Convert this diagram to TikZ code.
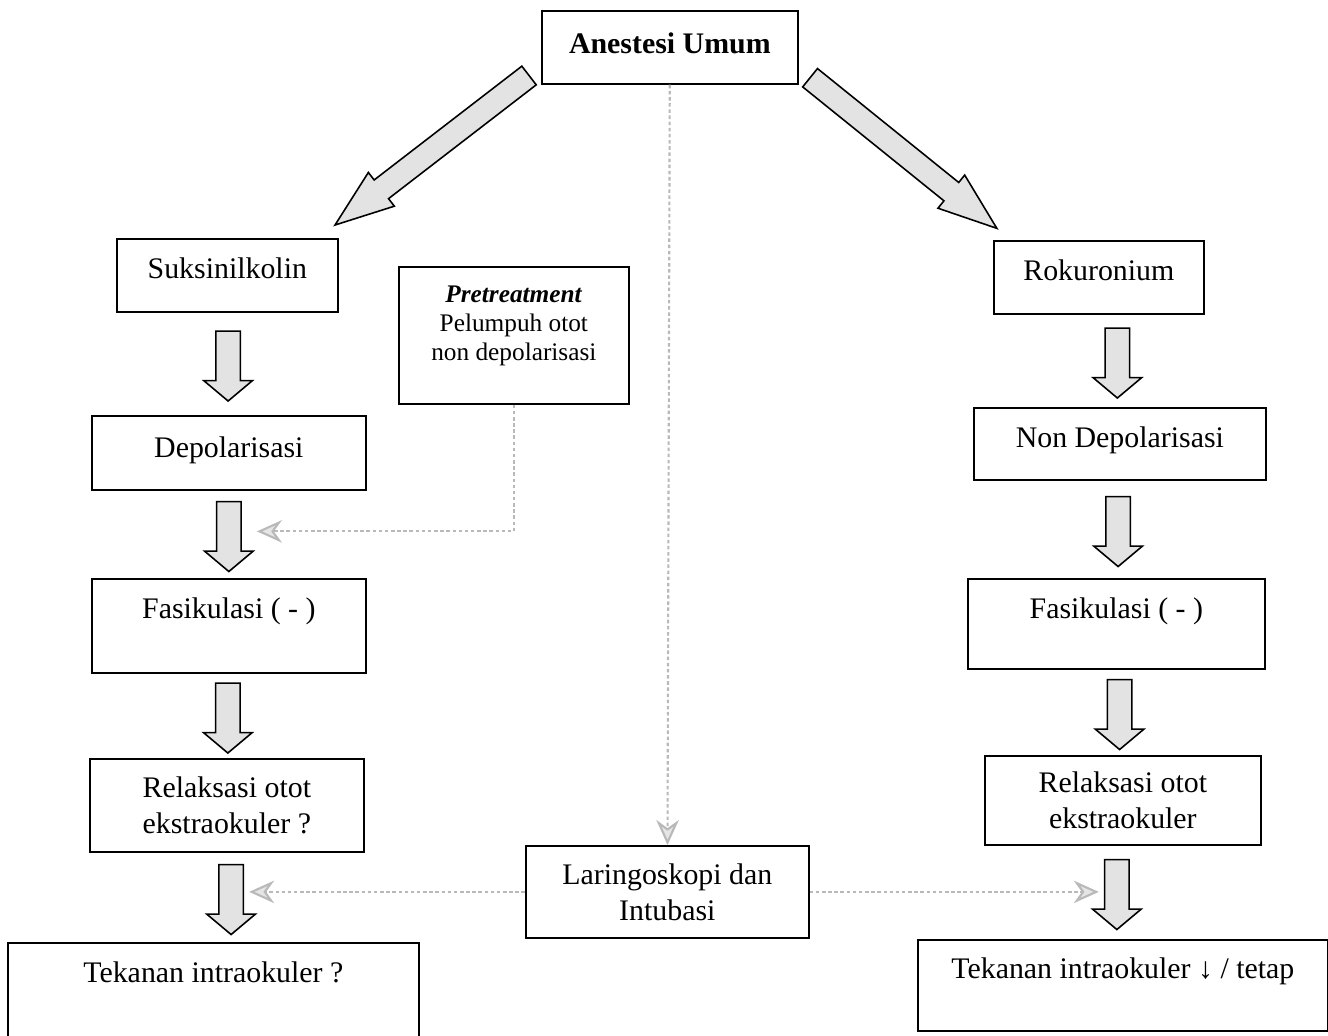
\documentclass[tikz,border=0pt]{standalone}
\usepackage{fontspec}
\setmainfont{Liberation Serif}
\usepackage{tikz}
\usetikzlibrary{shapes.arrows, arrows.meta, calc}

\newcommand{\boxfont}{\fontsize{17}{20.5}\selectfont}
\newcommand{\smallboxfont}{\fontsize{14.4}{16.5}\selectfont}

\tikzset{
  box/.style={draw, line width=1pt, inner sep=0pt, align=center, anchor=north west, font=\boxfont},
  downarrow/.style={single arrow, draw, line width=0.9pt, fill=gray!22, shape border rotate=270,
    minimum height=1.4cm, minimum width=0.94cm, single arrow head extend=0.24cm,
    single arrow tip angle=100, inner sep=0.23cm},
  bigarrow/.style={single arrow, draw, line width=0.9pt, fill=gray!22,
    minimum width=0.82cm, single arrow head extend=0.19cm,
    single arrow tip angle=40, inner sep=0.22cm},
  dotline/.style={draw=gray!55, line width=1.2pt, dash pattern=on 2pt off 1.5pt,
    -{Stealth[length=0.5cm, width=0.45cm, fill=gray!20]}},
}

\begin{document}
\begin{tikzpicture}[x=0.02cm, y=-0.02cm, >=stealth]

\useasboundingbox (0,0) rectangle (1328,1035);
\clip (0,0) rectangle (1328,1035);

\node [box, font=\boxfont\bfseries, minimum width=5.12cm, text height=0.86cm, text depth=0.60cm] (anes) at (541,10) {Anestesi Umum};

% left branch
\node [box, minimum width=4.42cm, text height=0.80cm, text depth=0.66cm] (suks) at (116,238) {Suksinilkolin};
\node [box, minimum width=5.48cm, text height=0.84cm, text depth=0.64cm] (depol) at (91,415) {Depolarisasi};
\node [box, minimum width=5.48cm, text height=0.80cm, text depth=1.08cm] (fasL) at (91,578) {Fasikulasi ( - )};
\node [box, minimum width=5.48cm, minimum height=1.86cm] (relL) at (89,758) {Relaksasi otot\\ekstraokuler ?};
\node [box, minimum width=8.22cm, text height=0.80cm, text depth=1.20cm] (tekL) at (7,942) {Tekanan intraokuler ?};

\node [box, font=\smallboxfont, minimum width=4.60cm, minimum height=2.74cm, text depth=0.48cm] (pretr) at (398,266)
  {\textbf{\textit{Pretreatment}}\\Pelumpuh otot\\non depolarisasi};

% right branch
\node [box, minimum width=4.20cm, text height=0.80cm, text depth=0.66cm] (roku) at (993,240) {Rokuronium};
\node [box, minimum width=5.84cm, text height=0.80cm, text depth=0.64cm] (ndepol) at (973,407) {Non Depolarisasi};
\node [box, minimum width=5.94cm, text height=0.80cm, text depth=1.00cm] (fasR) at (967,578) {Fasikulasi ( - )};
\node [box, minimum width=5.52cm, minimum height=1.78cm] (relR) at (984,755) {Relaksasi otot\\ekstraokuler};
\node [box, minimum width=8.20cm, text height=0.78cm, text depth=1.04cm] (tekR) at (917,939) {Tekanan intraokuler ↓ / tetap};

\node [box, minimum width=5.66cm, minimum height=1.84cm] (laring) at (525,845) {Laringoskopi dan\\Intubasi};

% block arrows
\path ($(anes.south west)+(2,-20)$) -- ($(suks.north east)+(8,-22)$)
  node [bigarrow, midway, sloped, allow upside down, minimum height=4.9cm] (larr) {};
\path ($(anes.south east)+(-1,-17)$) -- ($(roku.north west)+(-9,-22)$)
  node [bigarrow, midway, sloped, allow upside down, minimum height=4.8cm] (rarr) {};

\foreach \a/\b/\n/\dx in {suks/depol/a1/0, depol/fasL/a2/0, fasL/relL/a3/0, relL/tekL/a4/0.22,
                          roku/ndepol/b1/0.16, ndepol/fasR/b2/0, fasR/relR/b3/0, relR/tekR/b4/-0.12}
  \node [downarrow, xshift=\dx cm, yshift=0.06cm] (\n) at ($(\a.south)!0.5!(\b.north)$) {};

% dotted links
\draw [dotline] (anes) -- (laring);
\draw [dotline, shorten >=0.3cm] (pretr.south) |- (a2.east);
\draw [dotline, shorten >=0.1cm] (laring.west) -- (laring.west -| a4.east);
\draw [dotline, shorten >=0.1cm] (laring.east) -- (laring.east -| b4.west);

\end{tikzpicture}
\end{document}
